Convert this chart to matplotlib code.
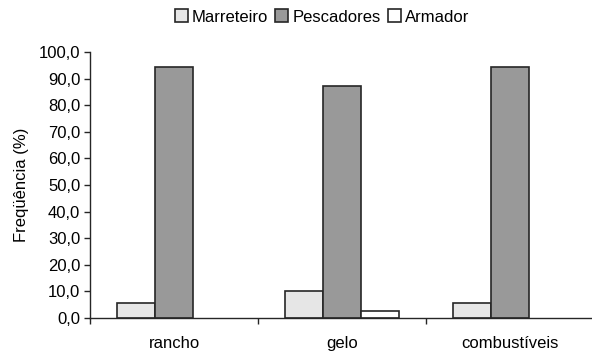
import matplotlib
matplotlib.use("Agg")
import matplotlib.pyplot as plt
import numpy as np

plt.rcParams['font.family'] = ['Liberation Sans', 'DejaVu Sans']

categories = ["rancho", "gelo", "combustíveis"]
series_names = ["Marreteiro", "Pescadores", "Armador"]
marreteiro = [5.6, 10.3, 5.6]
pescadores = [94.4, 87.2, 94.4]
armador = [0.0, 2.6, 0.0]
yticks = [0, 10, 20, 30, 40, 50, 60, 70, 80, 90, 100]

colors = ["#e6e6e6", "#999999", "#ffffff"]
fs = 12

fig = plt.figure(figsize=(5.92, 3.55), dpi=100)
ax = fig.add_axes([90 / 592, 1 - 318 / 355, 504 / 592, 266 / 355])

x = np.arange(len(categories))
w = 0.226
for i, (vals, name, c) in enumerate(zip([marreteiro, pescadores, armador], series_names, colors)):
    vals = np.asarray(vals, dtype=float)
    keep = vals > 0
    ax.bar(x[keep] + (i - 1) * w, vals[keep], width=w, color=c, edgecolor="#262626",
           linewidth=1.2, label=name)

ax.set_xlim(-0.5, len(categories) - 0.5)
ax.set_ylim(0, 100)
ax.set_yticks(yticks)
ax.set_yticklabels([f"{v:.1f}".replace(".", ",") for v in yticks], fontsize=fs)
ax.set_xticks(x)
ax.set_xticklabels(categories, fontsize=fs)
ax.tick_params(axis="x", length=0, pad=13)
ax.set_xticks(np.arange(len(categories)) - 0.5, minor=True)
ax.tick_params(axis="x", which="minor", length=4, width=1, color="#262626")
ax.tick_params(axis="y", length=4, width=1, color="#262626", pad=3)
ax.spines["top"].set_visible(False)
ax.spines["right"].set_visible(False)
for s in ["left", "bottom"]:
    ax.spines[s].set_color("#262626")
    ax.spines[s].set_linewidth(1)
ax.set_ylabel("Freqüência (%)", fontsize=fs, labelpad=7)

fig.legend(loc="center", bbox_to_anchor=(322 / 592, 1 - 17 / 355), ncol=3,
           frameon=False, fontsize=fs, handlelength=0.8, handleheight=0.8,
           handletextpad=0.25, columnspacing=0.4, borderpad=0)

fig.savefig("out.png", dpi=100)
